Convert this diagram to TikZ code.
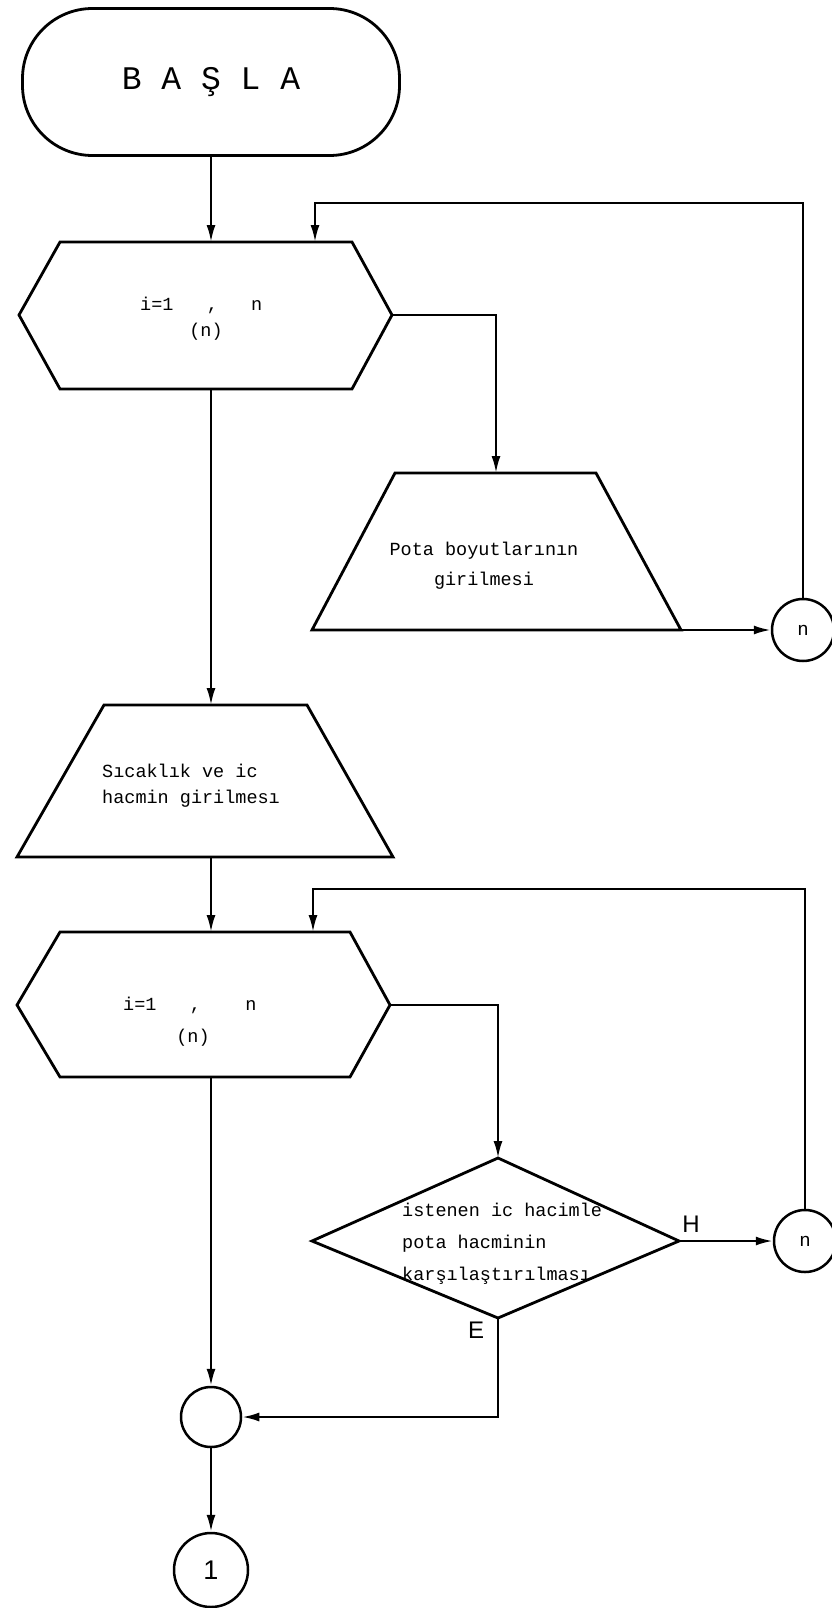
\documentclass[tikz,border=0pt]{standalone}
\usepackage{fontspec}
\setmonofont{Liberation Mono}
\setsansfont{Liberation Sans}
\usetikzlibrary{arrows.meta, positioning}

\begin{document}
\begin{tikzpicture}[x=1pt, y=-1pt,
    box/.style={line width=2.8pt, line join=miter},
    label/.style={font=\ttfamily\fontsize{18.5}{30}\selectfont, align=left, inner sep=0pt},
    conn/.style={draw, circle, line width=2.5pt, minimum size=62pt, inner sep=0pt,
        font=\ttfamily\fontsize{19}{19}\selectfont},
    flow/.style={-{Latex[length=17pt, width=9pt]}, line width=2.3pt},
    tag/.style={font=\sffamily\fontsize{24}{24}\selectfont, inner sep=0pt},
]
\useasboundingbox (0,0) rectangle (832,1608);

% baslangic
\node[draw, line width=2.8pt, rounded corners=70pt, minimum width=377pt,
      minimum height=147pt, font=\ttfamily\fontsize{33}{33}\selectfont]
    (start) at (211,82) {B A Ş L A};

% ilk dongu
\draw[box] (19,315) -- (60,242) -- (352,242) -- (392,315) -- (352,389) -- (60,389) -- cycle;
\coordinate (h1n) at (211,242);
\coordinate (h1s) at (211,389);
\coordinate (h1e) at (392,315);
\coordinate (h1loop) at (315,242);
\node[label, anchor=west] (h1lbl) at (140,305) {i=1~~~,~~~n};
\node[label] (h1cnt) at (206,332) {(n)};

% pota boyutlari
\draw[box] (395,473) -- (596,473) -- (681,630) -- (312,630) -- cycle;
\coordinate (t1n) at (496,473);
\coordinate (t1se) at (681,630);
\node[label, align=center] (t1lbl) at (484,566) {Pota boyutlarının\\girilmesi};

\node[conn] (n1) at (803,630) {n};
\coordinate (top1) at (803,203);

% sicaklik ve ic hacim
\draw[box] (104,705) -- (307,705) -- (393,857) -- (17,857) -- cycle;
\coordinate (t2n) at (211,705);
\coordinate (t2s) at (211,857);
\node[label, anchor=west] (t2lbl) at (102,786) {Sıcaklık ve ic\\[-4pt]hacmin girilmesı};

% ikinci dongu
\draw[box] (17,1005) -- (60,932) -- (350,932) -- (390,1005) -- (350,1077) -- (60,1077) -- cycle;
\coordinate (h2n) at (211,932);
\coordinate (h2s) at (211,1077);
\coordinate (h2e) at (390,1005);
\coordinate (h2loop) at (313,932);
\node[label, anchor=west] (h2lbl) at (123,1005) {i=1~~~,~~~~n};
\node[label] (h2cnt) at (193,1038) {(n)};

% karsilastirma
\draw[box] (498,1158) -- (679,1241) -- (498,1318) -- (312,1241) -- cycle;
\coordinate (dn) at (498,1158);
\coordinate (de) at (679,1241);
\coordinate (ds) at (498,1318);
\node[label, anchor=west] (dlbl) at (402,1244)
    {istenen ic hacimle\\[2pt]pota hacminin\\[2pt]karşılaştırılması};
\node[tag] (hlbl) at (691,1224) {H};
\node[tag] (elbl) at (476,1330) {E};

\node[conn] (n2) at (805,1241) {n};
\coordinate (top2) at (805,889);

% birlesme ve cikis
\node[conn, minimum size=60pt] (join) at (211,1417) {};
\node[conn, minimum size=74pt, font=\sffamily\fontsize{27}{27}\selectfont] (one) at (211,1570) {1};

% baglantilar
\draw[flow] (start) -- (h1n);
\draw[flow] (h1e) -| (t1n);
\draw[flow] (t1se) -- (n1.west);
\draw[flow] (n1.north) -- (top1) -| (h1loop);
\draw[flow] (h1s) -- (t2n);
\draw[flow] (t2s) -- (h2n);
\draw[flow] (h2e) -| (dn);
\draw[flow] (de) -- (n2.west);
\draw[flow] (n2.north) -- (top2) -| (h2loop);
\draw[flow] (ds) |- (join.east);
\draw[flow] (h2s) -- (join.north);
\draw[flow] (join.south) -- (one.north);

\end{tikzpicture}
\end{document}
